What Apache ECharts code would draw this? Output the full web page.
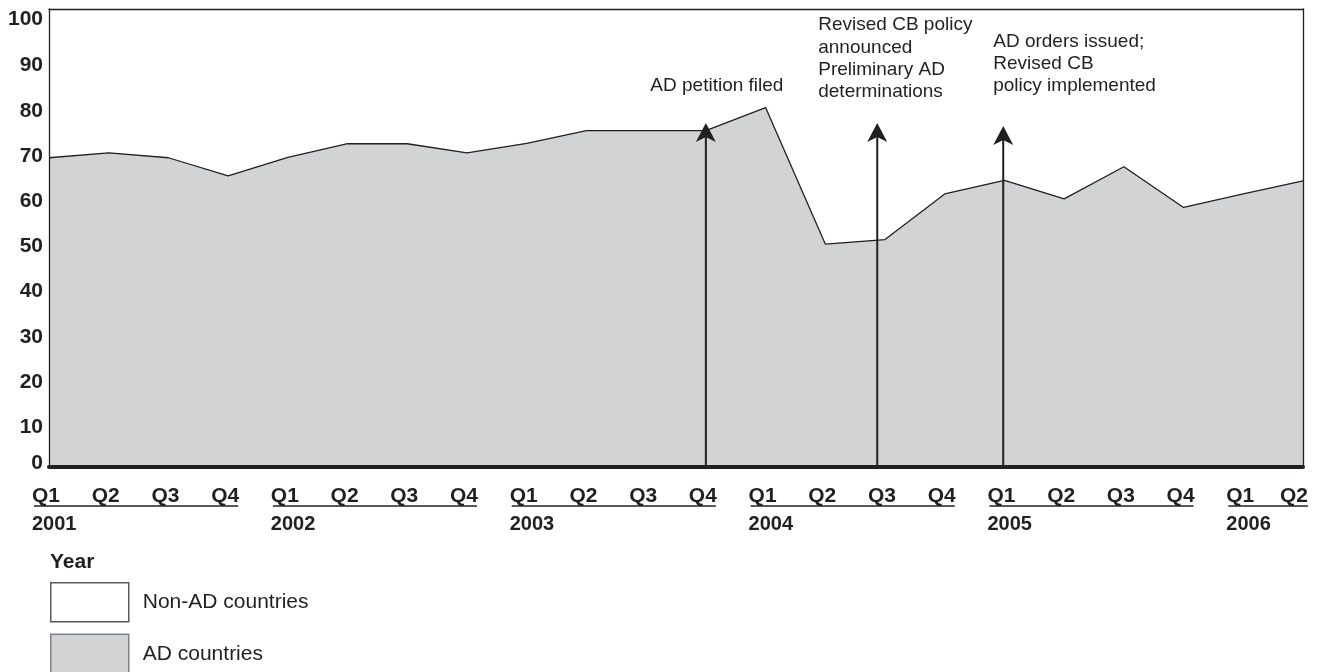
<!DOCTYPE html>
<html>
<head>
<meta charset="utf-8">
<script src="https://cdn.jsdelivr.net/npm/echarts@6/dist/echarts.min.js"></script>
<style>
html,body{margin:0;padding:0;background:#fff;}
#chart{width:1319px;height:672px;}
</style>
</head>
<body>
<div id="chart"></div>
<script>
// ---- data ----
const quarterLabels = ['Q1','Q2','Q3','Q4','Q1','Q2','Q3','Q4','Q1','Q2','Q3','Q4','Q1','Q2','Q3','Q4','Q1','Q2','Q3','Q4','Q1','Q2'];
const yearOfQuarter = ['2001','2001','2001','2001','2002','2002','2002','2002','2003','2003','2003','2003','2004','2004','2004','2004','2005','2005','2005','2005','2006','2006'];
const adCountries = [68.4, 69.5, 68.4, 64.4, 68.5, 71.5, 71.5, 69.5, 71.6, 74.4, 74.4, 74.4, 79.5, 49.3, 50.3, 60.4, 63.4, 59.3, 66.4, 57.4, 60.4, 63.3];
const nonAdCountries = [31.6, 30.5, 31.6, 35.6, 31.5, 28.5, 28.5, 30.5, 28.4, 25.6, 25.6, 25.6, 20.5, 50.7, 49.7, 39.6, 36.6, 40.7, 33.6, 42.6, 39.6, 36.7];
const yTicks = [0, 10, 20, 30, 40, 50, 60, 70, 80, 90, 100];
// events: position on the quarter index scale, arrow tip value, label lines
const eventPos = [11, 13.87, 15.98];
const eventTip = [76.1, 76.1, 75.4];
const eventText = [
  ['AD petition filed'],
  ['Revised CB policy', 'announced', 'Preliminary AD', 'determinations'],
  ['AD orders issued;', 'Revised CB', 'policy implemented']
];

// ---- styles ----
const INK = '#231f20';
const GRAY = '#d1d3d4';
const FONT = '"Liberation Sans", Arial, Helvetica, sans-serif';
// label placement relative to each arrow tip
const eventLabelLayout = [
  {dx: 11, lastLineAbove: 37, align: 'center'},
  {dx: -59, lastLineAbove: 31, align: 'left'},
  {dx: -10, lastLineAbove: 40, align: 'left'}
];
const LINE_H = 22.3;

// year groups derived from the category labels
const yearGroups = [];
yearOfQuarter.forEach((y, i) => {
  const g = yearGroups[yearGroups.length - 1];
  if (g && g.year === y) g.last = i; else yearGroups.push({year: y, first: i, last: i});
});

const chart = echarts.init(document.getElementById('chart'), null, {renderer: 'canvas'});

const borderAxis = {show: true, onZero: false, lineStyle: {color: INK, width: 1.3}};

const option = {
  animation: false,
  backgroundColor: '#fff',
  textStyle: {fontFamily: FONT},
  title: {
    text: 'Year', left: 50, top: 552, padding: 0,
    textStyle: {fontFamily: FONT, fontSize: 21, fontWeight: 'bold', color: INK}
  },
  legend: {
    orient: 'vertical', left: 50, top: 582, height: 160, padding: 0,
    itemWidth: 78, itemHeight: 39, itemGap: 11,
    selectedMode: false,
    textStyle: {fontFamily: FONT, fontSize: 21, color: INK, padding: [0, 0, 0, 9]},
    data: [
      {name: 'Non-AD countries', icon: 'rect', itemStyle: {color: '#ffffff', borderColor: '#58595b', borderWidth: 1.5}},
      {name: 'AD countries', icon: 'rect', itemStyle: {color: GRAY, borderColor: '#808285', borderWidth: 1.5}}
    ]
  },
  grid: {
    left: 49, right: 16, top: 9, bottom: 205,
    show: false, containLabel: false
  },
  xAxis: [
    {
      type: 'category', boundaryGap: false,
      data: quarterLabels.map((q, i) => q + ' ' + yearOfQuarter[i]),
      axisLine: {show: true, onZero: false, lineStyle: {color: INK, width: 4}},
      axisTick: {show: false},
      splitLine: {show: false},
      axisLabel: {
        interval: 0, margin: 19,
        formatter: (v, i) => i === quarterLabels.length - 1 ? '{l|' + quarterLabels[i] + '}' : '{q|' + quarterLabels[i] + '}',
        rich: {
          q: {fontFamily: FONT, fontSize: 21, fontWeight: 'bold', color: INK, padding: [0, 6, 0, 0]},
          l: {fontFamily: FONT, fontSize: 21, fontWeight: 'bold', color: INK, padding: [0, 18, 0, 0]}
        }
      },
      z: 10
    },
    {
      type: 'value', position: 'top', min: 0, max: quarterLabels.length - 1, z: 10,
      axisLine: borderAxis, axisTick: {show: false}, axisLabel: {show: false}, splitLine: {show: false}
    }
  ],
  yAxis: [
    {
      type: 'value', min: 0, max: 101.3, interval: 10, z: 10,
      axisLine: borderAxis, axisTick: {show: false}, splitLine: {show: false},
      axisLabel: {
        margin: 6,
        formatter: v => {
          if (yTicks.indexOf(v) < 0) return '';
          if (v === 0) return '{z|' + v + '}';
          if (v === 100) return '{h|' + v + '}';
          return '{a|' + v + '}';
        },
        rich: {
          a: {fontFamily: FONT, fontSize: 21, fontWeight: 'bold', color: INK, padding: [11, 0, 0, 0]},
          z: {fontFamily: FONT, fontSize: 21, fontWeight: 'bold', color: INK, padding: [0, 0, 8, 0]},
          h: {fontFamily: FONT, fontSize: 21, fontWeight: 'bold', color: INK, padding: [8, 0, 0, 0]}
        }
      }
    },
    {
      type: 'value', position: 'right', min: 0, max: 101.3, interval: 10, z: 10,
      axisLine: borderAxis, axisTick: {show: false}, splitLine: {show: false},
      axisLabel: {show: false}
    }
  ],
  series: [
    {
      name: 'AD countries', type: 'line', stack: 'share', data: adCountries,
      symbol: 'none', z: 4,
      lineStyle: {color: INK, width: 1.3},
      itemStyle: {color: GRAY},
      areaStyle: {color: GRAY, opacity: 1}
    },
    {
      name: 'Non-AD countries', type: 'line', stack: 'share', data: nonAdCountries,
      symbol: 'none', z: 2,
      lineStyle: {width: 0, opacity: 0},
      itemStyle: {color: '#ffffff'},
      areaStyle: {color: '#ffffff', opacity: 1}
    },
    {
      type: 'custom', xAxisIndex: 1, yAxisIndex: 0, z: 6, silent: true,
      data: eventPos.map((p, i) => [p, eventTip[i]]),
      renderItem: (params, api) => {
        const i = params.dataIndex;
        const base = api.coord([api.value(0), 0]);
        const tip = api.coord([api.value(0), api.value(1)]);
        const lay = eventLabelLayout[i];
        const lines = eventText[i];
        const headH = 19, headW = 10, notch = 14;
        const lastCenter = tip[1] - lay.lastLineAbove;
        const firstCenter = lastCenter - (lines.length - 1) * LINE_H;
        return {
          type: 'group',
          children: [
            {type: 'line', shape: {x1: base[0], y1: base[1] + 2, x2: tip[0], y2: tip[1] + notch}, style: {stroke: INK, lineWidth: 2}},
            {type: 'polygon', shape: {points: [[tip[0], tip[1]], [tip[0] + headW, tip[1] + headH], [tip[0], tip[1] + notch], [tip[0] - headW, tip[1] + headH]]}, style: {fill: INK}},
            {type: 'text', x: tip[0] + lay.dx, y: firstCenter - LINE_H / 2,
              style: {text: lines.join('\n'), fill: INK, font: '19px ' + FONT, align: lay.align, verticalAlign: 'top', lineHeight: LINE_H}}
          ]
        };
      }
    },
    {
      type: 'custom', xAxisIndex: 0, yAxisIndex: 0, z: 6, silent: true, clip: false,
      data: yearGroups.map(g => [g.first, 0, g.last]),
      encode: {x: 0, y: 1},
      renderItem: (params, api) => {
        const g = yearGroups[params.dataIndex];
        const p0 = api.coord([api.value(0), 0]);
        const p1 = api.coord([api.value(2), 0]);
        const isLast = g.last === quarterLabels.length - 1;
        const x2 = p1[0] + (isLast ? 5 : 10);
        return {
          type: 'group',
          children: [
            {type: 'line', shape: {x1: p0[0] - 15, y1: p0[1] + 39, x2: x2, y2: p0[1] + 39}, style: {stroke: INK, lineWidth: 1.3}},
            {type: 'text', x: p0[0] - 17, y: p0[1] + 57,
              style: {text: g.year, fill: INK, font: 'bold 20px ' + FONT, align: 'left', verticalAlign: 'middle'}}
          ]
        };
      }
    }
  ]
};
chart.setOption(option);
</script>
</body>
</html>
